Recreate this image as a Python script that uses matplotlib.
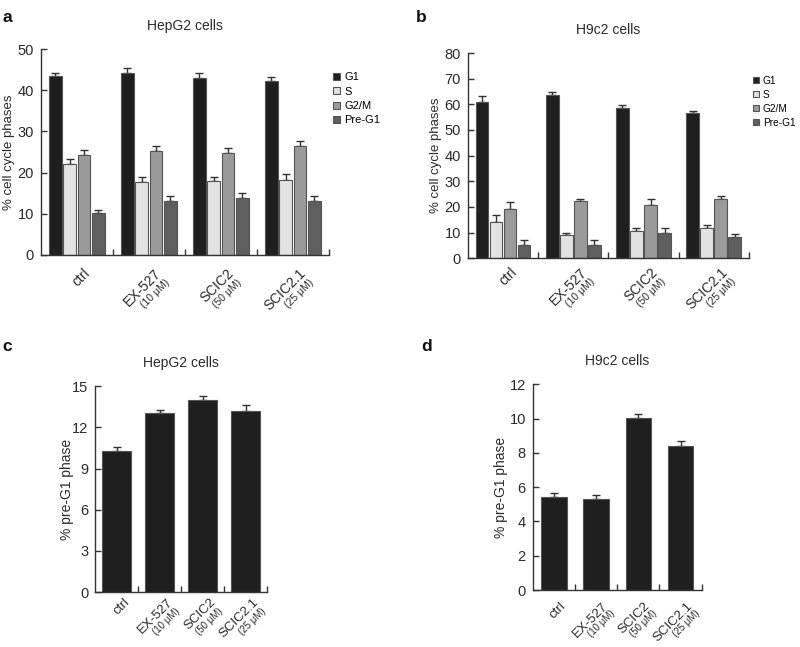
import numpy as np
import matplotlib
matplotlib.use('Agg')
import matplotlib.pyplot as plt

plt.rcParams['font.family'] = ['Liberation Sans', 'DejaVu Sans']

groups = ['ctrl', 'EX-527', 'SCIC2', 'SCIC2.1']
doses = ['', '(10 μM)', '(50 μM)', '(25 μM)']
phases = ['G1', 'S', 'G2/M', 'Pre-G1']
phase_colors = ['#1f1f1f', '#e2e2e2', '#9a9a9a', '#5f5f5f']

# panel a: HepG2, % cell cycle phases (rows = phases, cols = groups)
hep_vals = [[43.5, 44.2, 43.1, 42.2],
            [22.0, 17.6, 18.0, 18.2],
            [24.3, 25.2, 24.8, 26.5],
            [10.3, 13.0, 13.9, 13.1]]
hep_err = [[0.8, 1.3, 1.2, 1.1],
           [1.3, 1.4, 1.0, 1.4],
           [1.2, 1.3, 1.3, 1.3],
           [0.5, 1.2, 1.2, 1.2]]

# panel b: H9c2
h9_vals = [[61.1, 63.5, 58.5, 56.6],
           [14.0, 9.0, 10.4, 11.6],
           [19.2, 22.1, 20.8, 23.1],
           [5.2, 5.2, 10.0, 8.2]]
h9_err = [[2.0, 1.5, 1.2, 0.9],
          [2.9, 1.0, 1.3, 1.3],
          [2.6, 1.0, 2.3, 1.2],
          [2.0, 1.7, 1.8, 1.2]]

# panel c / d: % pre-G1
hep_pre = [10.3, 13.07, 14.0, 13.2]
hep_pre_err = [0.3, 0.2, 0.3, 0.4]
h9_pre = [5.41, 5.31, 10.02, 8.40]
h9_pre_err = [0.25, 0.22, 0.23, 0.3]

fig = plt.figure(figsize=(8, 6.47), dpi=100)
txt = '#2a2a2a'


def style_axes(ax, ymax, ystep, tsize):
    ax.spines['top'].set_visible(False)
    ax.spines['right'].set_visible(False)
    for s in ['left', 'bottom']:
        ax.spines[s].set_linewidth(1.0)
        ax.spines[s].set_color('#333333')
    ax.set_xlim(0, 4)
    ax.set_ylim(0, ymax)
    ax.set_yticks(np.arange(0, ymax + 0.01, ystep))
    ax.set_xticks([1, 2, 3, 4])
    ax.set_xticklabels([])
    ax.tick_params(axis='both', direction='in', length=4, width=1, color='#333333',
                   labelsize=tsize, labelcolor=txt)
    ax.tick_params(axis='y', pad=5)


def group_labels(ax, main_off, sub_off, main_size, sub_size):
    for i, (g, d) in enumerate(zip(groups, doses)):
        x = i + 0.5
        ax.annotate(g, xy=(x, 0), xycoords=('data', 'axes fraction'),
                    xytext=main_off, textcoords='offset points',
                    rotation=45, ha='right', va='top', rotation_mode='anchor',
                    fontsize=main_size, color=txt)
        if d:
            ax.annotate(d, xy=(x, 0), xycoords=('data', 'axes fraction'),
                        xytext=sub_off, textcoords='offset points',
                        rotation=45, ha='right', va='top', rotation_mode='anchor',
                        fontsize=sub_size, color=txt)


def phase_panel(rect, vals, err, ymax, ystep, title, ylx, main_off, sub_off, legsize):
    ax = fig.add_axes(rect)
    x = np.arange(len(groups)) + 0.5
    for k, ph in enumerate(phases):
        xs = x + (k - 1.5) * 0.2
        ax.bar(xs, vals[k], width=0.18, color=phase_colors[k], edgecolor='#555555',
               linewidth=0.8, label=ph, zorder=2)
        ax.errorbar(xs, vals[k], yerr=[np.zeros(4), err[k]], fmt='none',
                    ecolor='#333333', elinewidth=1, capsize=3, capthick=1, zorder=1)
    style_axes(ax, ymax, ystep, 10.5)
    ax.set_ylabel('% cell cycle phases', fontsize=9.5, color=txt)
    ax.yaxis.set_label_coords(ylx, 0.5)
    ax.set_title(title, fontsize=10, color=txt, pad=14)
    ax.legend(loc='upper left', bbox_to_anchor=(1.0, 0.91), frameon=False,
              fontsize=legsize, handlelength=0.6, handleheight=0.6,
              handletextpad=0.4, labelspacing=0.4, borderaxespad=0)
    group_labels(ax, main_off, sub_off, 10, 7.5)
    return ax


def pre_panel(rect, vals, err, ymax, ystep, width, title, ylx, main_off, sub_off):
    ax = fig.add_axes(rect)
    x = np.arange(len(groups)) + 0.5
    ax.bar(x, vals, width=width, color='#1f1f1f', edgecolor='#555555', linewidth=0.8, zorder=2)
    ax.errorbar(x, vals, yerr=[np.zeros(4), err], fmt='none', ecolor='#333333',
                elinewidth=1, capsize=3, capthick=1, zorder=1)
    style_axes(ax, ymax, ystep, 10.5)
    ax.set_ylabel('% pre-G1 phase', fontsize=10, color=txt)
    ax.yaxis.set_label_coords(ylx, 0.5)
    ax.set_title(title, fontsize=10, color=txt, pad=14)
    group_labels(ax, main_off, sub_off, 9.5, 7)
    return ax


phase_panel([0.051, 0.606, 0.360, 0.318], hep_vals, hep_err, 50, 10, 'HepG2 cells',
            -0.09, (4, -8), (11, -16), 8)
phase_panel([0.585, 0.601, 0.351, 0.317], h9_vals, h9_err, 80, 10, 'H9c2 cells',
            -0.093, (5, -5), (12, -13), 7.3)
pre_panel([0.119, 0.085, 0.215, 0.318], hep_pre, hep_pre_err, 15, 3, 0.67, 'HepG2 cells',
          -0.122, (5, -3), (11, -10))
pre_panel([0.666, 0.088, 0.211, 0.318], h9_pre, h9_pre_err, 12, 2, 0.6, 'H9c2 cells',
          -0.148, (4, -7), (10, -13))

for lx, ly, lt in [(0.003, 0.985, 'a'), (0.52, 0.985, 'b'), (0.003, 0.476, 'c'), (0.527, 0.476, 'd')]:
    fig.text(lx, ly, lt, fontsize=12.5, fontweight='bold', va='top', ha='left', color='#111111')

fig.savefig('out.png', dpi=100)
